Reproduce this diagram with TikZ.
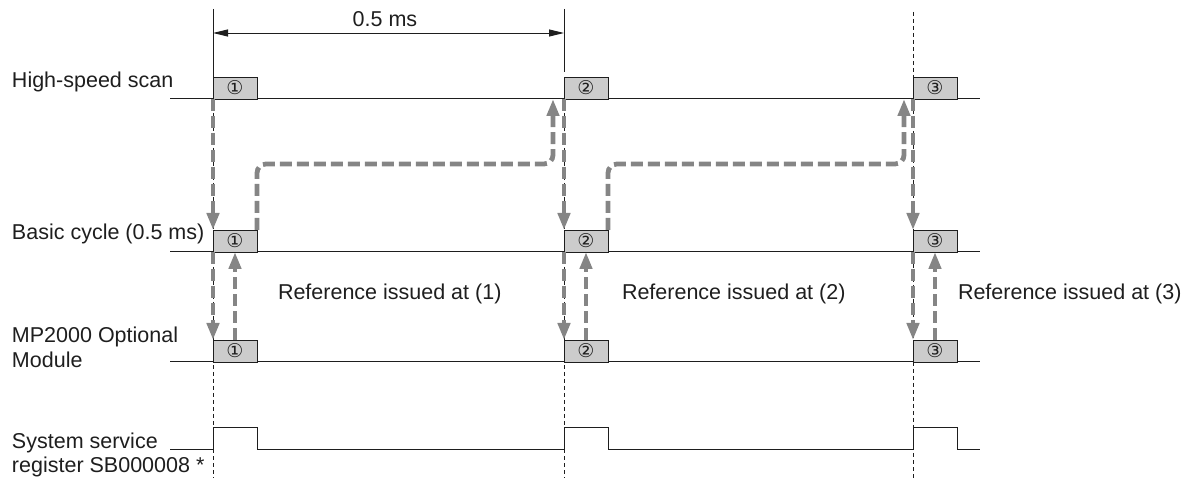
\documentclass[tikz,border=0pt]{standalone}
\usepackage{fontspec}
\setmainfont{Liberation Sans}
\newfontfamily\symf{DejaVu Sans}
\usetikzlibrary{arrows.meta}
\definecolor{arrgray}{HTML}{858585}
\definecolor{boxgray}{HTML}{CCCCCC}
\definecolor{ink}{HTML}{1E1E1E}
\begin{document}
\begin{tikzpicture}[x=1pt,y=-1pt,
  lbl/.style={anchor=base west, inner sep=0, outer sep=0, font=\fontsize{21.5}{24}\selectfont, text=ink},
  slot/.style={draw=ink, line width=0.9pt, fill=boxgray, minimum width=44pt, minimum height=22pt, inner sep=0, outer sep=0, anchor=south west, font=\symf\fontsize{19}{19}\selectfont, text=ink},
  flow/.style={draw=arrgray, line width=4.8pt, dash pattern=on 12pt off 5pt, -{Triangle[length=17pt,width=12pt]}, rounded corners=9pt},
  guide/.style={draw=ink, line width=0.9pt, dash pattern=on 4pt off 3pt},
  track/.style={draw=ink, line width=1pt},
  dim/.style={draw=ink, line width=0.9pt, {Triangle[length=15pt,width=7pt]}-{Triangle[length=15pt,width=7pt]}},
]
\useasboundingbox (0,0) rectangle (1192,478);

% labels
\node[lbl] (lhs) at (12,88) {High-speed scan};
\node[lbl] (lbc) at (12,240) {Basic cycle (0.5 ms)};
\node[lbl] (lmpa) at (12,343) {MP2000 Optional};
\node[lbl] (lmpb) at (12,367) {Module};
\node[lbl] (lssa) at (12,448) {System service};
\node[lbl] (lssb) at (12,472) {register SB000008 *};

% guide lines
\coordinate (g1t) at (213,99);  \coordinate (g1b) at (213,478);
\coordinate (g2t) at (564,99);  \coordinate (g2b) at (564,478);
\coordinate (g3t) at (913,12);  \coordinate (g3b) at (913,478);
\draw[guide] (g1t) -- (g1b);
\draw[guide] (g2t) -- (g2b);
\draw[guide] (g3t) -- (g3b);

% tracks
\coordinate (hsL) at (170,99);  \coordinate (hsR) at (980,99);
\coordinate (bcL) at (170,252); \coordinate (bcR) at (980,252);
\coordinate (mpL) at (170,362); \coordinate (mpR) at (980,362);
\draw[track] (hsL) -- (hsR);
\draw[track] (bcL) -- (bcR);
\draw[track] (mpL) -- (mpR);
\coordinate (ssL) at (170,449); \coordinate (ssR) at (980,449);
\draw[track] (ssL) -- (213,449) -- (213,427) -- (257,427) -- (257,449)
  -- (564,449) -- (564,427) -- (608,427) -- (608,449)
  -- (913,449) -- (913,427) -- (957,427) -- (957,449) -- (ssR);

% boxes
\node[slot] (hs1) at (213,99) {\raisebox{-2.5pt}{①}};
\node[slot] (hs2) at (564,99) {\raisebox{-2.5pt}{②}};
\node[slot] (hs3) at (913,99) {\raisebox{-2.5pt}{③}};
\node[slot] (bc1) at (213,252) {\raisebox{-2.5pt}{①}};
\node[slot] (bc2) at (564,252) {\raisebox{-2.5pt}{②}};
\node[slot] (bc3) at (913,252) {\raisebox{-2.5pt}{③}};
\node[slot] (mp1) at (213,362) {\raisebox{-2.5pt}{①}};
\node[slot] (mp2) at (564,362) {\raisebox{-2.5pt}{②}};
\node[slot] (mp3) at (913,362) {\raisebox{-2.5pt}{③}};

% period dimension
\coordinate (t1) at (213,9);
\coordinate (t2) at (564,9);
\coordinate (t2b) at (564,72);
\draw[track, line width=0.9pt] (t1) -- (hs1.north west);
\draw[track, line width=0.9pt] (t2) -- (t2b);
\coordinate (d1) at (213,33);
\coordinate (d2) at (564,33);
\draw[dim] (d1) -- (d2);
\node[lbl, anchor=base] (per) at (385,27) {0.5 ms};

% flow arrows
\draw[flow] (hs1.south west) -- (bc1.north west);
\draw[flow] (bc1.south west) -- (mp1.north west);
\draw[flow] (mp1.north) -- (bc1.south);
\coordinate (r1a) at (553,164);
\coordinate (r1b) at (553,99);
\draw[flow] (bc1.north east) |- (r1a) -- (r1b);

\draw[flow] (hs2.south west) -- (bc2.north west);
\draw[flow] (bc2.south west) -- (mp2.north west);
\draw[flow] (mp2.north) -- (bc2.south);
\coordinate (r2a) at (904,164);
\coordinate (r2b) at (904,99);
\draw[flow] (bc2.north east) |- (r2a) -- (r2b);

\draw[flow] (hs3.south west) -- (bc3.north west);
\draw[flow] (bc3.south west) -- (mp3.north west);
\draw[flow] (mp3.north) -- (bc3.south);

% reference texts
\node[lbl] (ref1) at (278,300) {Reference issued at (1)};
\node[lbl] (ref2) at (622,300) {Reference issued at (2)};
\node[lbl] (ref3) at (958,300) {Reference issued at (3)};
\end{tikzpicture}
\end{document}
